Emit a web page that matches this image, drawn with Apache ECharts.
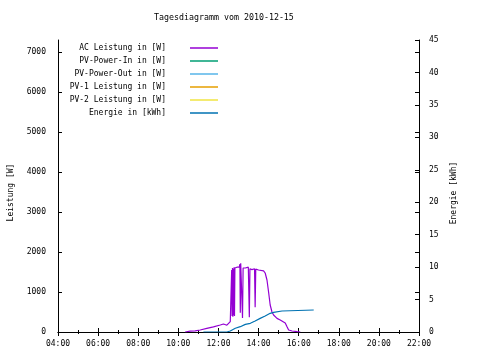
<!DOCTYPE html>
<html>
<head>
<meta charset="utf-8">
<script src="https://cdn.jsdelivr.net/npm/echarts@6/dist/echarts.min.js"></script>
<style>html,body{margin:0;padding:0;background:#fff}#c{width:480px;height:360px}</style>
</head>
<body>
<div id="c"></div>
<script>
var seriesNames = ['AC Leistung in [W]', 'PV-Power-In in [W]', 'PV-Power-Out in [W]', 'PV-1 Leistung in [W]', 'PV-2 Leistung in [W]', 'Energie in [kWh]'];
var seriesColors = ['#9400d3', '#009e73', '#56b4e9', '#e69f00', '#f0e442', '#0072b2'];

var acHours = [10.34, 10.40, 10.59, 10.84, 11.09, 11.42, 11.75, 12.09, 12.25, 12.34, 12.42, 12.50, 12.59, 12.64,
  12.66, 12.68, 12.70, 12.72, 12.74, 12.76, 12.78, 12.80, 12.82, 12.84, 12.92, 12.99, 13.04, 13.07, 13.09, 13.11,
  13.17, 13.20, 13.23, 13.34, 13.49, 13.54, 13.57, 13.67, 13.75, 13.80, 13.83, 13.86, 13.92, 14.00, 14.25, 14.33,
  14.42, 14.50, 14.58, 14.67, 14.75, 14.83, 14.92, 15.08, 15.17, 15.33, 15.42, 15.50, 15.67, 15.92, 16.08];
var acWatts = [0, 10, 20, 30, 50, 90, 130, 175, 200, 215, 170, 215, 260, 300,
  1550, 400, 1600, 380, 1580, 420, 1620, 400, 1600, 1600, 1620, 1650, 1620, 1700, 480, 1720,
  1750, 350, 1600, 1600, 1620, 370, 1580, 1560, 1560, 1580, 620, 1570, 1570, 1550, 1530, 1475,
  1300, 1000, 675, 500, 425, 380, 340, 300, 260, 225, 130, 50, 25, 8, 0];

var energyHours = [11.25, 12.42, 12.59, 12.84, 13.09, 13.34, 13.59, 13.83, 14.08, 14.33, 14.58, 14.75, 14.83, 15.17, 15.20, 16.75];
var energyKwh = [0, 0, 0.15, 0.57, 0.82, 1.18, 1.34, 1.69, 2.1, 2.46, 2.88, 3.03, 3.2, 3.24, 3.39, 3.39];

var xTickHours = [4, 6, 8, 10, 12, 14, 16, 18, 20, 22];

function pairs(xs, ys) { return xs.map(function (x, i) { return [x, ys[i]]; }); }

var FONT = 'DejaVu Sans Mono';
var txt = { fontFamily: FONT, fontSize: 8, color: '#000' };
var blackLine = { color: '#000', width: 1 };

var legendRows = [49, 62, 75, 88, 101, 114];
var legends = seriesNames.map(function (n, i) {
  return {
    data: [n], orient: 'vertical', align: 'right', right: 262, top: legendRows[i] - 5,
    padding: 0, itemWidth: 28, itemHeight: 1.5, icon: 'rect', selectedMode: false,
    textStyle: { fontFamily: FONT, fontSize: 8, color: '#000', padding: [0, 19, 0, 0] }
  };
});

var series = seriesNames.map(function (n, i) {
  var d = [];
  if (i === 0) d = pairs(acHours, acWatts);
  if (i === 5) d = pairs(energyHours, energyKwh);
  return {
    name: n, type: 'line', data: d, showSymbol: false, symbol: 'none', animation: false,
    yAxisIndex: i === 5 ? 1 : 0, color: seriesColors[i],
    lineStyle: { width: 1.2, color: seriesColors[i] }
  };
});

var chart = echarts.init(document.getElementById('c'));
chart.setOption({
  animation: false,
  title: { text: 'Tagesdiagramm vom 2010-12-15', left: 154, top: 14, padding: 0,
    textStyle: { fontFamily: FONT, fontSize: 8.3, fontWeight: 'normal', color: '#000' } },
  legend: legends,
  grid: { left: 58, right: 61, top: 40, bottom: 28, outerBoundsMode: 'none', containLabel: false },
  xAxis: [{
    type: 'value', min: 4, max: 22, interval: 2, position: 'bottom',
    axisLine: { show: true, lineStyle: blackLine },
    axisTick: { show: true, inside: true, length: 4, lineStyle: blackLine },
    minorTick: { show: true, splitNumber: 2, length: 2, lineStyle: blackLine },
    splitLine: { show: false },
    axisLabel: Object.assign({ margin: 8, formatter: function (v) {
      return xTickHours.indexOf(v) >= 0 ? (v < 10 ? '0' : '') + v + ':00' : ''; } }, txt)
  }, {
    type: 'value', min: 4, max: 22, interval: 2, position: 'top',
    axisLine: { show: true, lineStyle: blackLine },
    axisTick: { show: true, inside: true, length: 4, lineStyle: blackLine },
    minorTick: { show: true, splitNumber: 2, length: 2, lineStyle: blackLine },
    splitLine: { show: false }, axisLabel: { show: false }
  }],
  yAxis: [{
    type: 'value', min: 0, max: 7300, interval: 1000, position: 'left',
    name: 'Leistung [W]', nameLocation: 'middle', nameGap: 43, nameRotate: 90,
    nameTextStyle: { fontFamily: FONT, fontSize: 8, color: '#000', padding: [0, 13, 0, 0] },
    axisLine: { show: true, lineStyle: blackLine },
    axisTick: { show: true, inside: true, length: 4, lineStyle: blackLine },
    splitLine: { show: false },
    axisLabel: Object.assign({ margin: 12, showMaxLabel: false,
      formatter: function (v) { return String(v); } }, txt)
  }, {
    type: 'value', min: 0, max: 45, interval: 5, position: 'right',
    name: 'Energie [kWh]', nameLocation: 'middle', nameGap: 30, nameRotate: 90,
    nameTextStyle: { fontFamily: FONT, fontSize: 8, color: '#000', padding: [0, 14, 0, 0] },
    axisLine: { show: true, lineStyle: blackLine },
    axisTick: { show: true, inside: true, length: 4, lineStyle: blackLine },
    splitLine: { show: false },
    axisLabel: Object.assign({ margin: 10, formatter: function (v) { return String(v); } }, txt)
  }, {
    type: 'value', min: 0, max: 7300, interval: 1000, position: 'right',
    axisLine: { show: false },
    axisTick: { show: true, inside: true, length: 4, lineStyle: blackLine },
    splitLine: { show: false }, axisLabel: { show: false }
  }],
  series: series
});
</script>
</body>
</html>
